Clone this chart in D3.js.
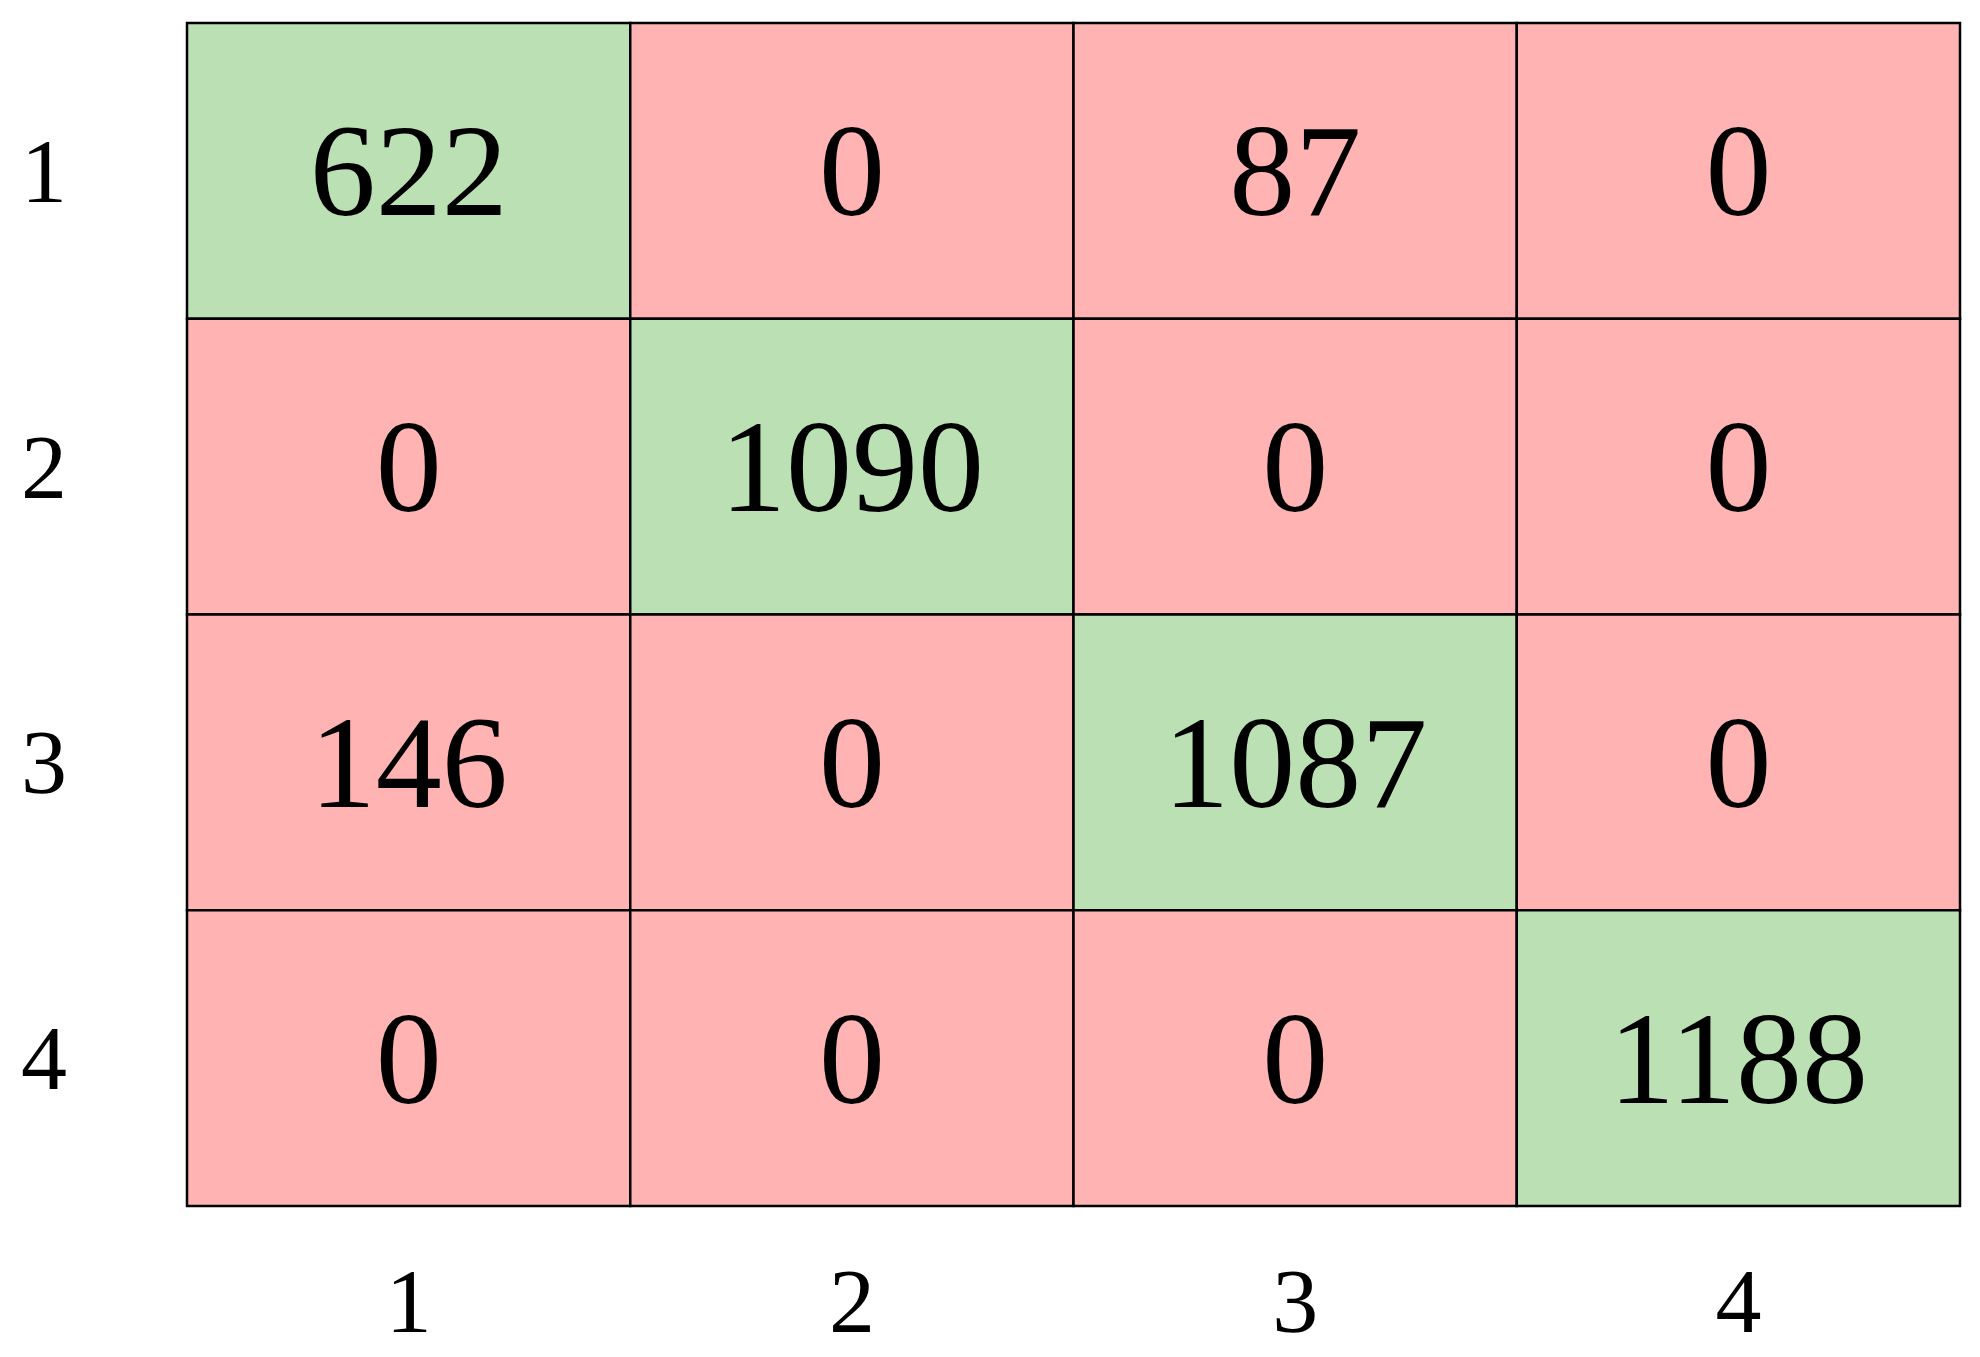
<!DOCTYPE html>
<html><head><meta charset="utf-8">
<script src="https://cdn.jsdelivr.net/npm/d3@7"></script>
<style>body{margin:0;background:#fff}</style></head>
<body><svg id="c" width="1980" height="1357"></svg>
<script>
const rowLabels = ["1","2","3","4"];
const colLabels = ["1","2","3","4"];
const values = [
  [622, 0, 87, 0],
  [0, 1090, 0, 0],
  [146, 0, 1087, 0],
  [0, 0, 0, 1188]
];
const svg = d3.select("#c");
const x = d3.scaleBand().domain(colLabels).range([187, 1960]);
const y = d3.scaleBand().domain(rowLabels).range([23, 1206]);
const cells = [];
values.forEach((r,i)=>r.forEach((v,j)=>cells.push({r:rowLabels[i],c:colLabels[j],v,diag:i===j})));
const g = svg.append("g");
g.selectAll("rect").data(cells).join("rect")
  .attr("x",d=>x(d.c)).attr("y",d=>y(d.r))
  .attr("width",x.bandwidth()).attr("height",y.bandwidth())
  .attr("fill",d=>d.diag?"#bbe0b3":"#ffb3b3")
  .attr("stroke","#000").attr("stroke-width",2.5);
g.selectAll("text").data(cells).join("text")
  .attr("x",d=>x(d.c)+x.bandwidth()/2).attr("y",d=>y(d.r)+y.bandwidth()/2)
  .attr("text-anchor","middle").attr("dominant-baseline","central")
  .attr("font-family","Liberation Serif").attr("font-size",132)
  .text(d=>d.v);
svg.append("g").selectAll("text").data(rowLabels).join("text")
  .attr("x",44).attr("y",d=>y(d)+y.bandwidth()/2)
  .attr("text-anchor","middle").attr("dominant-baseline","central")
  .attr("font-family","Liberation Serif").attr("font-size",92).text(d=>d);
svg.append("g").selectAll("text").data(colLabels).join("text")
  .attr("x",d=>x(d)+x.bandwidth()/2).attr("y",1301)
  .attr("text-anchor","middle").attr("dominant-baseline","central")
  .attr("font-family","Liberation Serif").attr("font-size",92).text(d=>d);
</script></body></html>
